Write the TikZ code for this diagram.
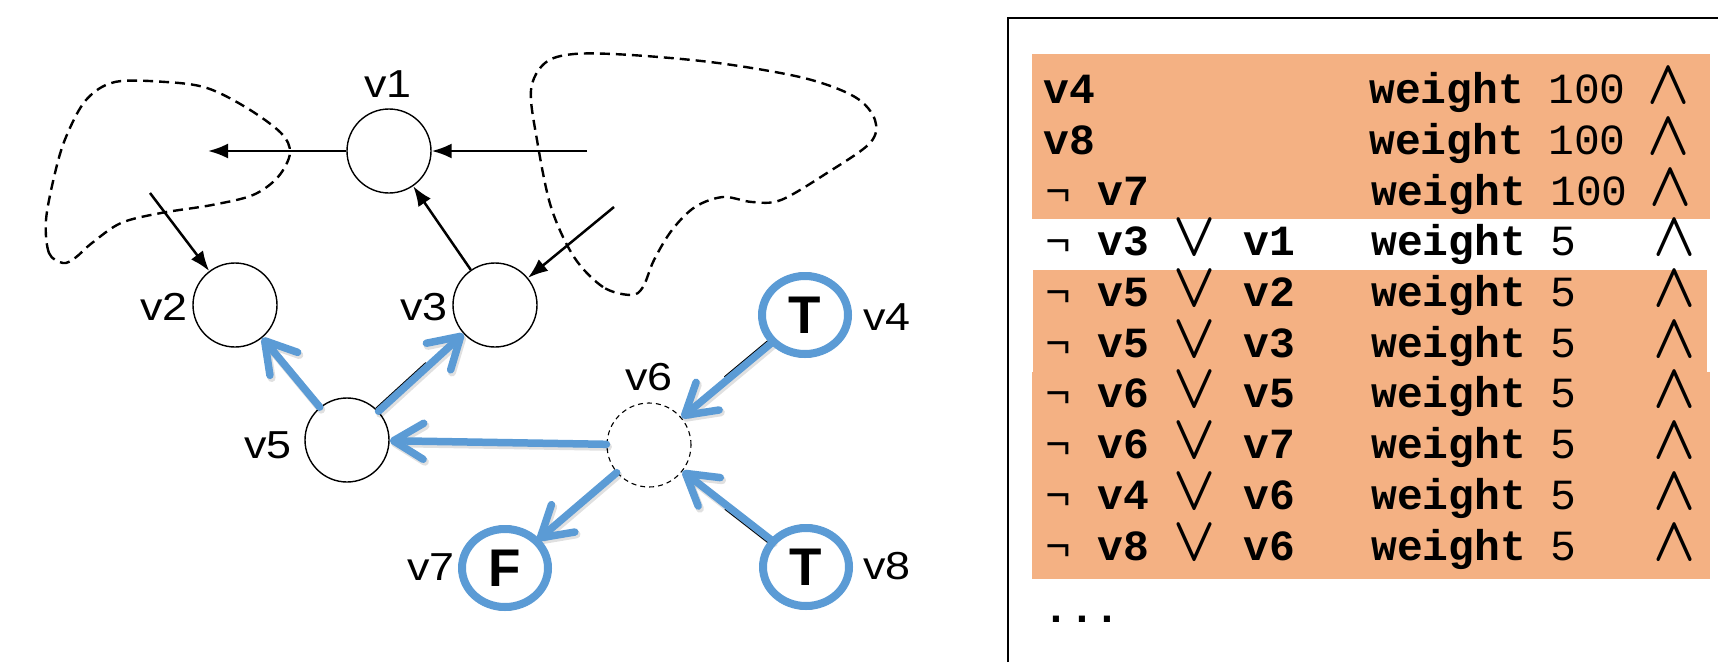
\RequirePackage{fix-cm}
\documentclass[tikz,border=0pt]{standalone}
\usepackage{fontspec}
\setmainfont{Liberation Sans}
\newfontfamily\monofnt{Liberation Mono}
\usetikzlibrary{arrows.meta,calc}
\definecolor{bblue}{RGB}{91,155,213}
\definecolor{borange}{RGB}{244,177,131}
\newcommand{\wlab}[1]{\scalebox{1.15}[1]{#1}}
\newcommand{\myand}{\scalebox{1.12}[1.28]{\boldmath$\wedge$}}
\newcommand{\myor}{\scalebox{1.12}[1.28]{\boldmath$\vee$}}
\begin{document}
\begin{tikzpicture}[x=1pt,y=-1pt,
  vnode/.style={circle,draw=black,line width=1.4pt,minimum size=84pt,inner sep=0pt,fill=white},
  vlabel/.style={font=\fontsize{39}{41}\selectfont,inner sep=0pt},
  tf/.style={font=\bfseries\fontsize{53}{55}\selectfont,inner sep=0pt},
  blk/.style={line width=2.5pt,-{Latex[length=20pt,width=15pt]}},
  blu/.style={draw=bblue,line width=7.5pt,line cap=round,-{Straight Barb[length=30pt,width=36pt,round]}},
  blushadow/.style={draw=black,opacity=0.12,line width=8pt,line cap=round,-{Straight Barb[length=30pt,width=36pt,round]}},
  bring/.style={draw=bblue,line width=8pt},
  under/.style={draw=black,line width=1.5pt},
  blob/.style={line width=2.4pt,dash pattern=on 10pt off 6pt},
  tt/.style={font=\monofnt\bfseries\fontsize{43}{45}\selectfont,inner sep=0pt,anchor=base west},
  tn/.style={font=\monofnt\fontsize{43}{45}\selectfont,inner sep=0pt,anchor=base west},
  sym/.style={font=\fontsize{49}{51}\selectfont,inner sep=0pt,anchor=base},
]
\useasboundingbox (0,0) rectangle (1718,662);

% dashed blobs
\draw[blob] plot[smooth cycle,tension=0.55] coordinates {
  (63,263) (49,253) (46,220) (55,173) (66,137) (86,100) (115,82) (166,82)
  (207,88) (247,108) (281,133) (290,153) (278,177) (253,195) (212,205)
  (161,213) (121,223) (92,243) (75,258)};
\draw[blob] plot[smooth cycle,tension=0.55] coordinates {
  (631,295) (603,287) (574,257) (551,207) (537,140) (531,90) (545,63)
  (574,54) (631,55) (718,63) (804,78) (855,97) (875,120) (870,143)
  (827,173) (781,200) (752,202) (723,197) (695,207) (672,230) (654,260) (643,287)};

% nodes
\node[vnode] (v1) at (389,151) {};
\node[vnode] (v2) at (235,305) {};
\node[vnode] (v3) at (495,305) {};
\node[vnode] (v4) at (805,315) {};
\node[vnode] (v5) at (347,440) {};
\node[vnode,line width=1.1pt,dash pattern=on 5pt off 4pt] (v6) at (649,445) {};
\node[vnode] (v7) at (505,568) {};
\node[vnode] (v8) at (806,567) {};

% free ends of black connectors
\coordinate (a1) at (208,151);
\coordinate (a2) at (587,151);
\coordinate (a3) at (150,193);
\coordinate (a4) at (614,207);

\draw[blk] (v1) -- (a1);
\draw[blk] (a2) -- (v1);
\draw[blk] (v3) -- (v1);
\draw[blk] (a3) -- (v2);
\draw[blk] (a4) -- (v3);

% original black edges peeking from under the blue ones
\draw[under,transform canvas={xshift=-2.5pt,yshift=3pt}] (v5) -- ($(v5)!0.55!(v3)$);
\draw[under,transform canvas={xshift=-2.5pt,yshift=3pt}] (v4) -- ($(v4)!0.5!(v6)$);
\draw[under,transform canvas={xshift=-2.5pt,yshift=-3pt}] (v8) -- ($(v8)!0.5!(v6)$);

% shadows of blue arrows
\begin{scope}[transform canvas={xshift=1.5pt,yshift=-2.5pt}]
\draw[blushadow] (v5) -- (v2);
\draw[blushadow] (v5) -- (v3);
\draw[blushadow] (v6) -- (v5);
\draw[blushadow] (v4) -- (v6);
\draw[blushadow] (v6) -- (v7);
\draw[blushadow] (v8) -- (v6);
\end{scope}

% blue arrows
\draw[blu] (v5) -- (v2);
\draw[blu] (v5) -- (v3);
\draw[blu] (v6) -- (v5);
\draw[blu] (v4) -- (v6);
\draw[blu] (v6) -- (v7);
\draw[blu] (v8) -- (v6);

% blue rings
\draw[bring] (v4.center) ellipse [x radius=43, y radius=39];
\draw[bring] (v7.center) ellipse [x radius=43, y radius=39];
\draw[bring] (v8.center) ellipse [x radius=43, y radius=39];

\node[tf] (t4) at (v4.center) {T};
\node[tf] (f7) at (v7.center) {F};
\node[tf] (t8) at (v8.center) {T};

% labels
\node[vlabel] (l1) at (388,84) {\wlab{v1}};
\node[vlabel] (l2) at (164,307) {\wlab{v2}};
\node[vlabel] (l3) at (424,307) {\wlab{v3}};
\node[vlabel] (l4) at (887,317) {\wlab{v4}};
\node[vlabel] (l5) at (268,445) {\wlab{v5}};
\node[vlabel] (l6) at (649,377) {\wlab{v6}};
\node[vlabel] (l7) at (431,567) {\wlab{v7}};
\node[vlabel] (l8) at (887,566) {\wlab{v8}};

% right panel
\draw[line width=2pt] (1008,662) -- (1008,18) -- (1718,18);
\fill[borange] (1032,54) rectangle (1710,219);
\fill[borange] (1033,270) rectangle (1707,372);
\fill[borange] (1032,372) rectangle (1710,579);

\node[tt] (r1a) at (1043,103) {v4};
\node[tt] (r1w) at (1369,103) {weight};
\node[tn] (r1k) at (1548,103) {100};
\node[sym] (r1c) at (1669,103) {\myand};

\node[tt] (r2a) at (1043,154) {v8};
\node[tt] (r2w) at (1369,154) {weight};
\node[tn] (r2k) at (1548,154) {100};
\node[sym] (r2c) at (1669,154) {\myand};

\node[tn] (r3n) at (1045,205) {¬};
\node[tt] (r3a) at (1097,205) {v7};
\node[tt] (r3w) at (1371,205) {weight};
\node[tn] (r3k) at (1550,205) {100};
\node[sym] (r3c) at (1671,205) {\myand};

\foreach \i/\a/\b in {4/v3/v1,5/v5/v2,6/v5/v3,7/v6/v5,8/v6/v7,9/v4/v6,10/v8/v6}{
  \pgfmathsetmacro\yy{103+50.8*(\i-1)}
  \node[tn] (r\i n) at (1045,\yy) {¬};
  \node[tt] (r\i a) at (1097,\yy) {\a};
  \node[sym] (r\i o) at (1195,\yy) {\myor};
  \node[tt] (r\i b) at (1243,\yy) {\b};
  \node[tt] (r\i w) at (1371,\yy) {weight};
  \node[tn] (r\i k) at (1550,\yy) {5};
  \node[sym] (r\i c) at (1675,\yy) {\myand};
}
\node[tt] (dots) at (1043,622) {...};
\end{tikzpicture}
\end{document}
